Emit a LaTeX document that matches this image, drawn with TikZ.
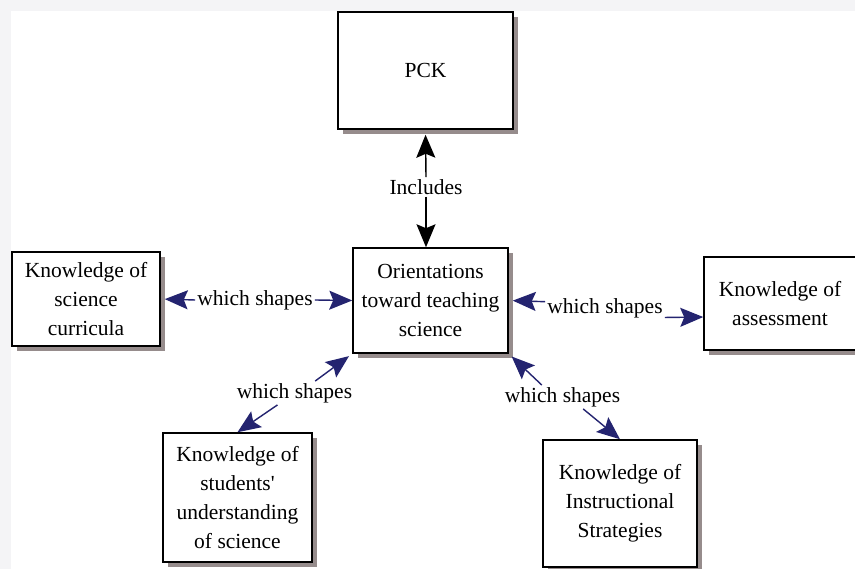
\documentclass[tikz,border=0pt]{standalone}
\usepackage{fontspec}
\setmainfont{Liberation Serif}
\usetikzlibrary{arrows.meta,shadows}

\definecolor{arrowblue}{RGB}{36,36,112}
\definecolor{shadowgray}{RGB}{150,140,140}
\definecolor{framegray}{RGB}{244,244,246}

\tikzset{
  kbox/.style={draw=black, line width=1.5pt, fill=white, align=center, inner sep=2pt,
    font=\fontsize{21.5}{29}\selectfont,
    general shadow={fill=shadowgray, shadow xshift=5pt, shadow yshift=-5pt}},
  lbl/.style={inner sep=2pt, font=\fontsize{21.5}{29}\selectfont},
  bluearrow/.style={-{Stealth[length=23pt,width=19pt,inset=4pt]}, draw=arrowblue, fill=arrowblue, line width=1.4pt},
  blackarrow/.style={-{Stealth[length=23pt,width=19pt,inset=4pt]}, draw=black, fill=black, line width=1.4pt}
}

\begin{document}
\begin{tikzpicture}[x=1pt,y=-1pt]

\fill[framegray] (0,0) rectangle (855,569);
\fill[white] (11,11) rectangle (855,569);
\useasboundingbox (0,0) rectangle (855,569);

\node [kbox, minimum width=175pt, minimum height=117pt] (pck) at (425.5,70.5) {PCK};
\node [kbox, minimum width=155pt, minimum height=105pt] (orient) at (430.5,300.5) {Orientations\\toward teaching\\science};
\node [kbox, minimum width=148pt, minimum height=94pt] (curric) at (86,299) {Knowledge of\\science\\curricula};
\node [kbox, minimum width=152pt, minimum height=93pt] (assess) at (780,303.5) {Knowledge of\\assessment};
\node [kbox, minimum width=149pt, minimum height=129pt] (students) at (237.5,497.5) {Knowledge of\\students\textquotesingle\\understanding\\of science};
\node [kbox, minimum width=154pt, minimum height=127pt] (instr) at (620,503.5) {Knowledge of\\Instructional\\Strategies};


\node [lbl] (l_inc) at (426,187) {Includes};
\node [lbl] (l_curric) at (255,300) {which shapes};
\node [lbl] (l_assess) at (605,308) {which shapes};
\node [lbl] (l_students) at (294.5,393) {which shapes};
\node [lbl] (l_instr) at (562.5,397) {which shapes};

\draw[blackarrow, shorten >=5pt] (l_inc.north) -- (pck.south);
\draw[blackarrow] (l_inc.south) -- (l_inc.south |- orient.north);

\draw[bluearrow, shorten >=4pt] (l_curric.west) -- (curric.east);
\draw[bluearrow] (l_curric.east) -- (orient.west);

\draw[bluearrow, shorten >=4pt] (l_assess.174) -- (orient.east);
\draw[bluearrow] (l_assess.351) -- (assess.190);

\draw[bluearrow, shorten >=4pt] (l_students.30) -- (orient.south west);
\draw[bluearrow] (l_students.215) -- (students.north);

\draw[bluearrow, shorten >=4pt] (l_instr.150) -- (orient.south east);
\draw[bluearrow] (l_instr.330) -- (instr.north);

\end{tikzpicture}
\end{document}
